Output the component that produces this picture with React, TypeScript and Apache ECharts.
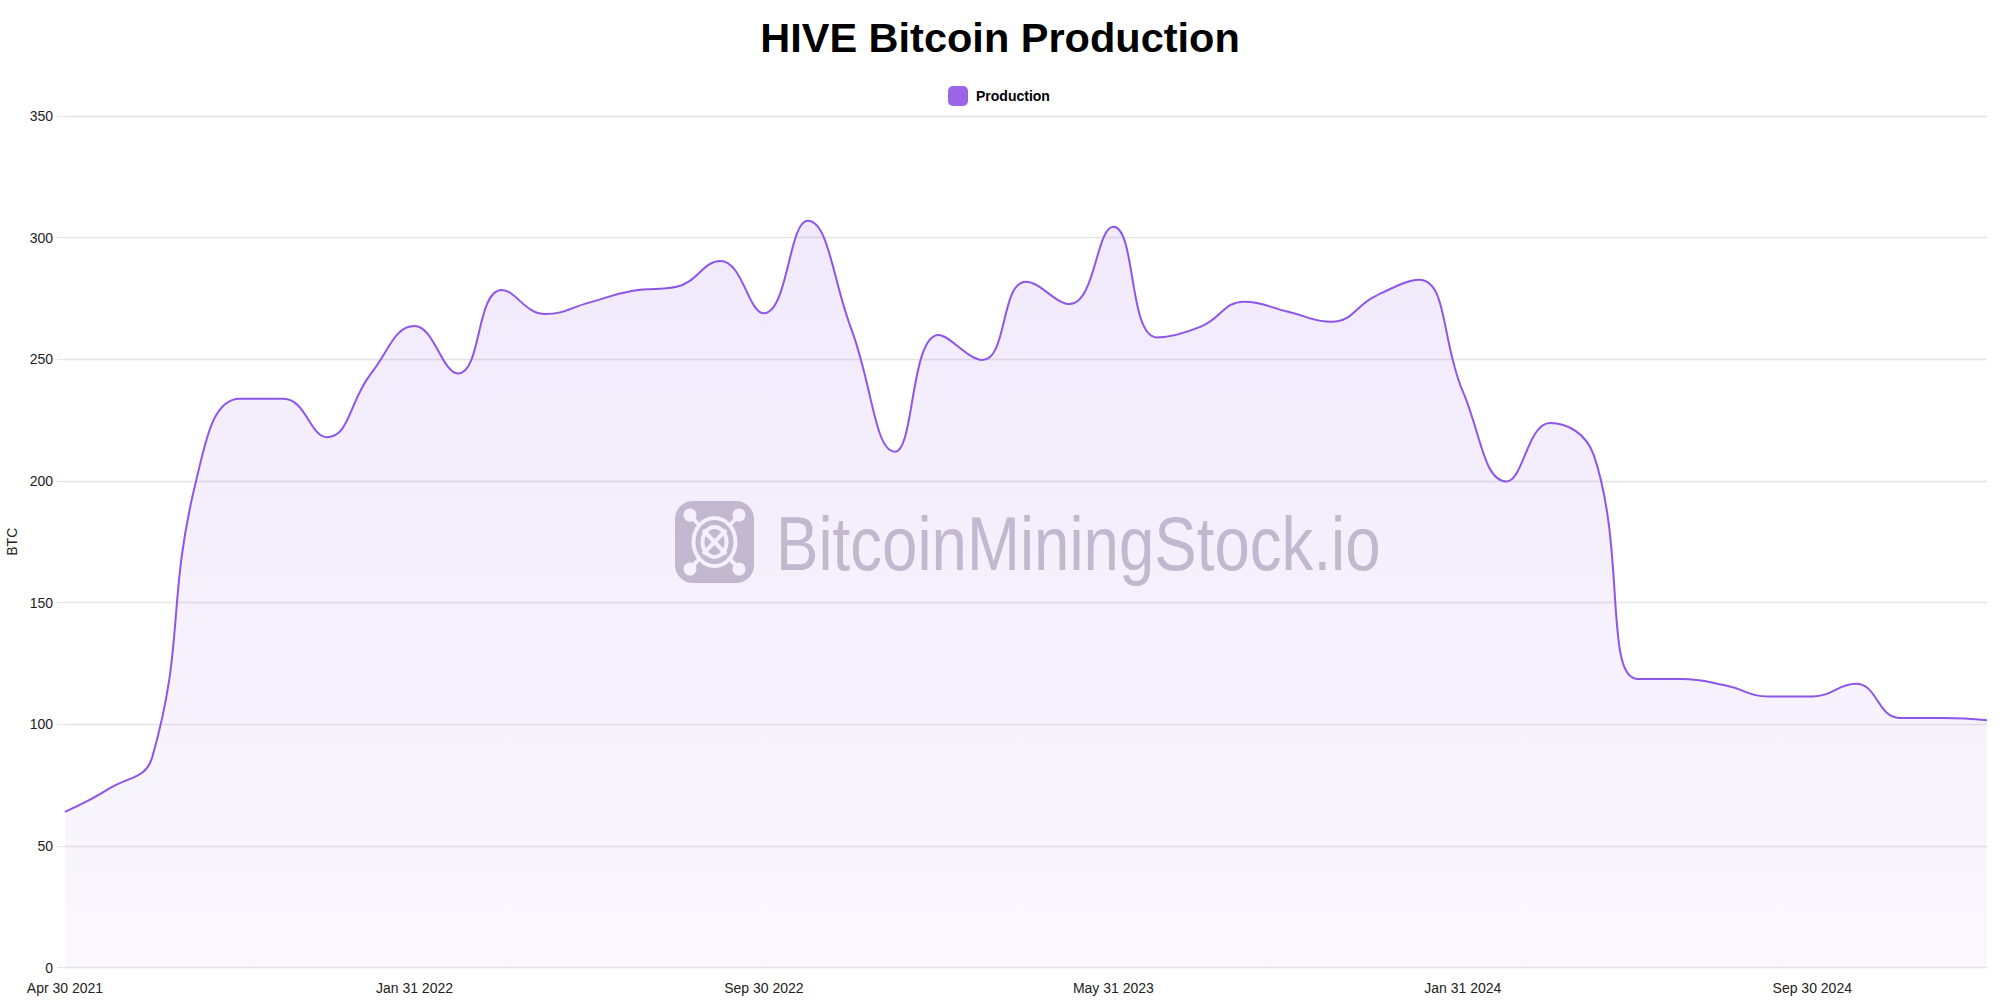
import React, { useEffect, useRef } from "react";
import * as echarts from "echarts";

const categories = [
  "Apr 30 2021", "May 31 2021", "Jun 30 2021", "Aug 31 2021", "Sep 30 2021",
  "Oct 31 2021", "Nov 30 2021", "Dec 31 2021", "Jan 31 2022", "Feb 28 2022",
  "Mar 31 2022", "Apr 30 2022", "May 31 2022", "Jun 30 2022", "Jul 31 2022",
  "Aug 31 2022", "Sep 30 2022", "Oct 31 2022", "Nov 30 2022", "Dec 31 2022",
  "Jan 31 2023", "Feb 28 2023", "Mar 31 2023", "Apr 30 2023", "May 31 2023",
  "Jun 30 2023", "Jul 31 2023", "Aug 31 2023", "Sep 30 2023", "Oct 31 2023",
  "Nov 30 2023", "Dec 31 2023", "Jan 31 2024", "Feb 29 2024", "Mar 31 2024",
  "Apr 30 2024", "May 31 2024", "Jun 30 2024", "Jul 31 2024", "Aug 31 2024",
  "Sep 30 2024", "Oct 31 2024", "Nov 30 2024", "Dec 31 2024", "Jan 31 2025",
];

const production = [
  64, 73.4, 86.6, 200, 233.8, 233.8, 218, 244, 263.7, 244.2,
  278.5, 268.6, 273.3, 278.2, 279.8, 290.4, 268.9, 306.9, 262.5, 212,
  260, 249.7, 281.9, 272.7, 304.5, 259, 263.4, 273.7, 269.5, 265.4,
  276, 282.7, 236.8, 199.8, 223.8, 210.5, 118.6, 118.6, 116, 111.4,
  111.4, 116.6, 102.6, 102.6, 101.6,
];

const Y_MIN = 0;
const Y_MAX = 350;
const Y_STEP = 50;

const TITLE = "HIVE Bitcoin Production";
const SERIES_NAME = "Production";
const Y_NAME = "BTC";
const WATERMARK = "BitcoinMiningStock.io";

const FONT = "'Liberation Sans', Arial, Helvetica, sans-serif";
const WM_COLOR = "#c6c1cc";

export default function App() {
  const ref = useRef<HTMLDivElement>(null);

  useEffect(() => {
    document.body.style.margin = "0";
    document.body.style.overflow = "hidden";
    const chart = echarts.init(ref.current!, null, { renderer: "svg" });

    const lx = 675;
    const ly = 501;
    const logo = {
      type: "group",
      x: lx,
      y: ly,
      z: 1,
      silent: true,
      children: [
        { type: "rect", shape: { x: 0, y: 0, width: 79, height: 82, r: 18 }, style: { fill: WM_COLOR } },
        { type: "line", shape: { x1: 15, y1: 14, x2: 64, y2: 68 }, style: { stroke: "#fff", lineWidth: 4 } },
        { type: "line", shape: { x1: 64, y1: 14, x2: 15, y2: 68 }, style: { stroke: "#fff", lineWidth: 4 } },
        { type: "ellipse", shape: { cx: 39.5, cy: 41, rx: 21, ry: 24 }, style: { fill: WM_COLOR, stroke: "#fff", lineWidth: 4 } },
        { type: "ellipse", shape: { cx: 39.5, cy: 41, rx: 12, ry: 15 }, style: { fill: "none", stroke: "#fff", lineWidth: 4 } },
        { type: "line", shape: { x1: 28, y1: 29, x2: 51, y2: 53 }, style: { stroke: "#fff", lineWidth: 4 } },
        { type: "line", shape: { x1: 51, y1: 29, x2: 28, y2: 53 }, style: { stroke: "#fff", lineWidth: 4 } },
        { type: "circle", shape: { cx: 15, cy: 14, r: 6.5 }, style: { fill: "#fff" } },
        { type: "circle", shape: { cx: 64, cy: 14, r: 6.5 }, style: { fill: "#fff" } },
        { type: "circle", shape: { cx: 15, cy: 68, r: 6.5 }, style: { fill: "#fff" } },
        { type: "circle", shape: { cx: 64, cy: 68, r: 6.5 }, style: { fill: "#fff" } },
      ],
    };

    chart.setOption({
      animation: false,
      backgroundColor: "#ffffff",
      title: {
        text: TITLE,
        left: "center",
        top: 11,
        textStyle: { fontFamily: FONT, fontSize: 41.5, fontWeight: "bold", color: "#000" },
      },
      legend: {
        data: [SERIES_NAME],
        left: 948,
        top: 86,
        padding: 0,
        icon: "roundRect",
        itemWidth: 20,
        itemHeight: 20,
        itemStyle: { color: "#9b65e6", borderWidth: 0 },
        textStyle: { fontFamily: FONT, fontSize: 14, fontWeight: "bold", color: "#000", padding: [0, 0, 0, 3] },
      },
      grid: { left: 65, right: 13, top: 116, bottom: 32.5, containLabel: false, outerBoundsMode: "none" },
      xAxis: {
        type: "category",
        data: categories,
        boundaryGap: false,
        axisLine: { show: false },
        axisTick: { show: false },
        splitLine: { show: false },
        axisLabel: { interval: 7, fontFamily: FONT, fontSize: 14, color: "#222", margin: 13 },
      },
      yAxis: {
        type: "value",
        min: Y_MIN,
        max: Y_MAX,
        interval: Y_STEP,
        name: Y_NAME,
        nameLocation: "middle",
        nameRotate: 90,
        nameGap: 46,
        nameTextStyle: { fontFamily: FONT, fontSize: 14, color: "#222" },
        axisLine: { show: false },
        axisTick: { show: true, length: 8, lineStyle: { color: "#e4e4e4" } },
        splitLine: { show: true, lineStyle: { color: "#e4e4e4", width: 1.3 } },
        axisLabel: { fontFamily: FONT, fontSize: 14, color: "#222", margin: 12 },
      },
      graphic: [
        logo,
        {
          type: "text",
          x: 776,
          y: 544,
          z: 1,
          scaleX: 0.837,
          silent: true,
          style: {
            text: WATERMARK,
            fontFamily: FONT,
            fontSize: 76,
            fill: WM_COLOR,
            verticalAlign: "middle",
            align: "left",
          },
        },
      ],
      series: [
        {
          name: SERIES_NAME,
          type: "line",
          data: production,
          smooth: 0.45,
          showSymbol: false,
          symbol: "none",
          z: 3,
          itemStyle: { color: "#9b65e6" },
          lineStyle: { color: "#8d56e8", width: 2 },
          areaStyle: {
            color: new echarts.graphic.LinearGradient(0, 0, 0, 1, [
              { offset: 0, color: "rgba(155, 101, 230, 0.2)" },
              { offset: 1, color: "rgba(155, 101, 230, 0.07)" },
            ]),
          },
        },
      ],
    });

    return () => chart.dispose();
  }, []);

  return <div ref={ref} style={{ width: 2000, height: 1000 }} />;
}
